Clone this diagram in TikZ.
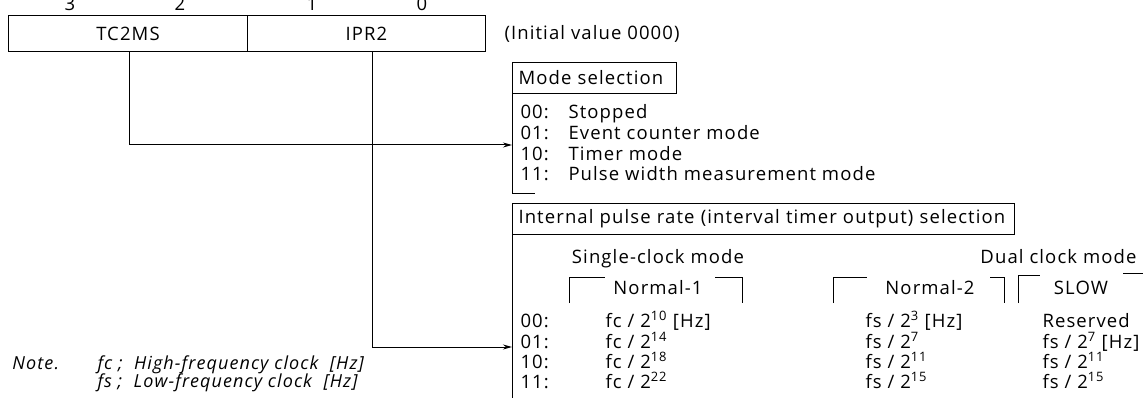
\documentclass[tikz,border=0pt]{standalone}
\usepackage{fontspec}
\setmainfont{Open Sans}[LetterSpace=6]
\usetikzlibrary{arrows.meta}
\begin{document}
\begin{tikzpicture}[x=1pt,y=-1pt, line width=1pt,
  every node/.style={font=\fontsize{18.5}{20}\selectfont, inner sep=0pt},
  regbox/.style={draw, anchor=north west, minimum height=36pt},
  titlebox/.style={draw, anchor=north west, minimum height=31pt, inner xsep=6pt, align=left},
  lbl/.style={anchor=base west},
  ctr/.style={anchor=base},
  conn/.style={-{Stealth[length=9pt,width=5pt]}},
  notetext/.style={anchor=base west, font=\fontsize{18}{20}\selectfont\itshape}]
\useasboundingbox (0,0) rectangle (1143,398);
\clip (0,0) rectangle (1143,398);

% register
\node[ctr] (b3) at (70,11) {3};
\node[ctr] (b2) at (180,11) {2};
\node[ctr] (b1) at (312,11) {1};
\node[ctr] (b0) at (422,11) {0};
\node[regbox, minimum width=239pt] (tc) at (8,15) {TC2MS};
\node[regbox, minimum width=238pt] (ipr) at (247,15) {IPR2};
\node[lbl] (init) at (504,40) {(Initial value 0000)};

% mode selection
\node[titlebox, text width=152pt] (modet) at (512,62) {Mode selection};
\coordinate (modeend) at (512,194);
\coordinate (modetick) at (535,194);
\draw (modet.south west) -- (modeend) -- (modetick);
\node[lbl] (m0) at (520,119) {00:};
\node[lbl] (m0t) at (568,119) {Stopped};
\node[lbl] (m1) at (520,140) {01:};
\node[lbl] (m1t) at (568,140) {Event counter mode};
\node[lbl] (m2) at (520,161) {10:};
\node[lbl] (m2t) at (568,161) {Timer mode};
\node[lbl] (m3) at (520,181) {11:};
\node[lbl] (m3t) at (568,181) {Pulse width measurement mode};
\coordinate (modein) at (512,145);

% internal pulse rate
\node[titlebox, text width=490pt] (ipt) at (512,203) {Internal pulse rate (interval timer output) selection};
\coordinate (ipend) at (512,400);
\draw (ipt.south west) -- (ipend);
\node[ctr] (single) at (658,263) {Single-clock mode};
\node[anchor=base east] (dual) at (1137,263) {Dual clock mode};

\node[ctr] (n1) at (658,294) {Normal-1};
\draw (569,303) -- (569,277) -- (605,277);
\draw (715,277) -- (742,277) -- (742,303);
\node[ctr] (n2) at (930,294) {Normal-2};
\draw (833,303) -- (833,277) -- (867,277);
\draw (990,277) -- (1004,277) -- (1004,303);
\node[ctr] (slow) at (1081,294) {SLOW};
\draw (1018,303) -- (1018,275) -- (1040,275);
\draw (1123,273) -- (1143,273);

\node[lbl] (r0) at (520,327) {00:};
\node[lbl] (r0a) at (605,327) {fc / 2\textsuperscript{10} [Hz]};
\node[lbl] (r0b) at (865,327) {fs / 2\textsuperscript{3} [Hz]};
\node[lbl] (r0c) at (1042,327) {Reserved};
\node[lbl] (r1) at (520,348) {01:};
\node[lbl] (r1a) at (605,348) {fc / 2\textsuperscript{14}};
\node[lbl] (r1b) at (865,348) {fs / 2\textsuperscript{7}};
\node[lbl] (r1c) at (1042,348) {fs / 2\textsuperscript{7} [Hz]};
\node[lbl] (r2) at (520,368) {10:};
\node[lbl] (r2a) at (605,368) {fc / 2\textsuperscript{18}};
\node[lbl] (r2b) at (865,368) {fs / 2\textsuperscript{11}};
\node[lbl] (r2c) at (1042,368) {fs / 2\textsuperscript{11}};
\node[lbl] (r3) at (520,388) {11:};
\node[lbl] (r3a) at (605,388) {fc / 2\textsuperscript{22}};
\node[lbl] (r3b) at (865,388) {fs / 2\textsuperscript{15}};
\node[lbl] (r3c) at (1042,388) {fs / 2\textsuperscript{15}};
\coordinate (tabin) at (512,347);

% connectors
\draw[conn] ([xshift=1.5pt]tc.south) |- (modein);
\draw[conn] ([xshift=6pt]ipr.south) |- (tabin);

% note
\node[notetext] (note) at (12,369) {Note.};
\node[notetext] (fc) at (97,369) {fc ;\ \ High-frequency clock\ \ [Hz]};
\node[notetext] (fs) at (97,387) {fs ;\ \ Low-frequency clock\ \ [Hz]};
\end{tikzpicture}
\end{document}
